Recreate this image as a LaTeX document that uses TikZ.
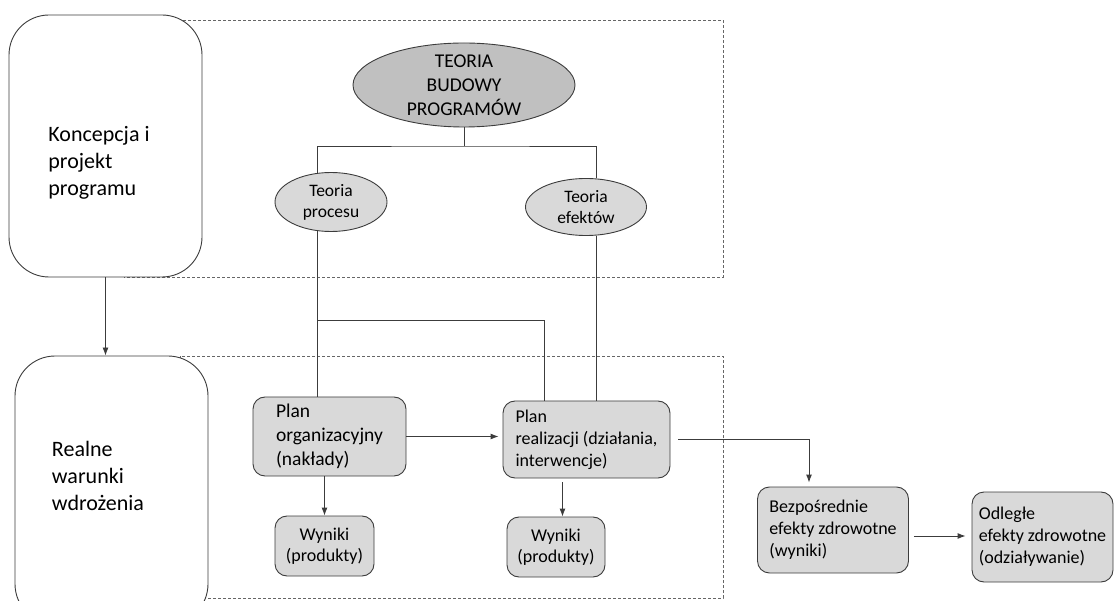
\documentclass[tikz,border=0pt]{standalone}
\usepackage{fontspec}
\setmainfont{Carlito}
\usepackage{tikz}
\usetikzlibrary{positioning}
\usetikzlibrary{arrows.meta}
\usetikzlibrary{shapes.geometric}

\definecolor{boxgray}{RGB}{217,217,217}
\definecolor{ovalgray}{RGB}{192,192,192}
\definecolor{edgegray}{RGB}{60,60,60}

\begin{document}
\begin{tikzpicture}[
                      x=1pt, y=-1pt, line width=0.9pt,
                      bigbox/.style={draw=edgegray, fill=white, rounded corners=40pt, inner sep=0pt},
                      bigtxt/.style={align=left, font=\fontsize{22}{27}\selectfont},
                      planbox/.style={draw=edgegray, fill=boxgray, rounded corners=12pt, inner sep=0pt},
                      oval/.style={ellipse, draw=edgegray, fill=boxgray, inner sep=0pt, align=center,
                                   font=\fontsize{17.5}{21}\selectfont},
                      frame/.style={draw=black!60, dash pattern=on 3pt off 2pt, line width=0.8pt},
                      link/.style={draw=edgegray},
                      arr/.style={draw=edgegray, -{Latex[length=8pt,width=6pt]}}
                  ]
                  \useasboundingbox (0,0) rectangle (1114,601);
                  % dashed frames
                  \draw[frame] (124,20) rectangle (723,277);
                  \draw[frame] (180,356) rectangle (723,598);

                  \node[bigbox, minimum width=193pt, minimum height=262pt] at (105.5,146) (konc) {};
                  \node[bigtxt] at (99,163) (koncT) {Koncepcja i\\projekt\\programu};
                  \node[bigbox, minimum width=193pt, minimum height=268pt] at (111.5,490) (real) {};
                  \node[bigtxt] at (98,476) (realT) {Realne\\warunki\\wdrożenia};

                  \node[oval, fill=ovalgray, minimum width=222pt, minimum height=84pt, inner ysep=-6pt,
                        font=\fontsize{19.5}{24}\selectfont] at (464,85) (teoria) {TEORIA\\BUDOWY\\PROGRAMÓW};
                  \node[oval, minimum width=112pt, minimum height=59pt] at (331,202) (proc) {Teoria\\procesu};
                  \node[oval, minimum width=121pt, minimum height=57pt] at (586,207) (efek) {Teoria\\efektów};

                  \node[planbox, align=left, minimum width=153pt, minimum height=79pt,
                        font=\fontsize{19.5}{24}\selectfont] at (329.5,436.5) (org) {Plan\\organizacyjny\\(nakłady)};
                  \node[planbox, align=left, minimum width=167pt, minimum height=77pt,
                        font=\fontsize{18}{22}\selectfont] at (586.5,439.5) (realiz) {Plan\\realizacji (działania,\\interwencje)};
                  \node[planbox, align=center, minimum width=99pt, minimum height=60pt,
                        font=\fontsize{18}{21.5}\selectfont] at (324.5,546) (wyn1) {Wyniki\\(produkty)};
                  \node[planbox, align=center, minimum width=98pt, minimum height=60pt,
                        font=\fontsize{18}{21.5}\selectfont] at (556,547) (wyn2) {Wyniki\\(produkty)};
                  \node[planbox, align=left, minimum width=151pt, minimum height=86pt,
                        font=\fontsize{18}{22}\selectfont] at (833,530) (bezp) {Bezpośrednie\\efekty zdrowotne\\(wyniki)};
                  \node[planbox, align=left, minimum width=141pt, minimum height=90pt,
                        font=\fontsize{18}{22}\selectfont] at (1042.5,537) (odl) {Odległe\\efekty zdrowotne\\(odziaływanie)};

                  \coordinate (fork) at (teoria.south |- 0,146);
                  \coordinate (jn) at (proc.245 |- 0,320);
                  \draw[link] (teoria.south) -- (fork);
                  \draw[link] (proc.115) |- (fork) -| (efek.70);
                  \draw[link] (proc.245) -- (proc.245 |- org.north);
                  \draw[link] (jn) -| ([xshift=-42pt]realiz.north);
                  \draw[link] (efek.290) -- (efek.290 |- realiz.north);

                  \draw[arr] (konc.south) -- (konc.south |- real.north);
                  \draw[arr, shorten >=4pt] (org.east) -- ([yshift=3pt]realiz.west);
                  \draw[arr] (org.south -| wyn1.north) -- (wyn1.north);
                  \draw[arr, shorten <=4pt] ([xshift=-24pt]realiz.south) -- ([xshift=-24pt]realiz.south |- wyn2.north);
                  \draw[arr, shorten >=4pt] ([xshift=8pt]realiz.east) -| ([xshift=-24pt]bezp.north);
                  \draw[arr, shorten <=5pt, shorten >=6pt] ([yshift=-6pt]bezp.east) -- ([yshift=-6pt]bezp.east -| odl.west);
              \end{tikzpicture}
\end{document}
